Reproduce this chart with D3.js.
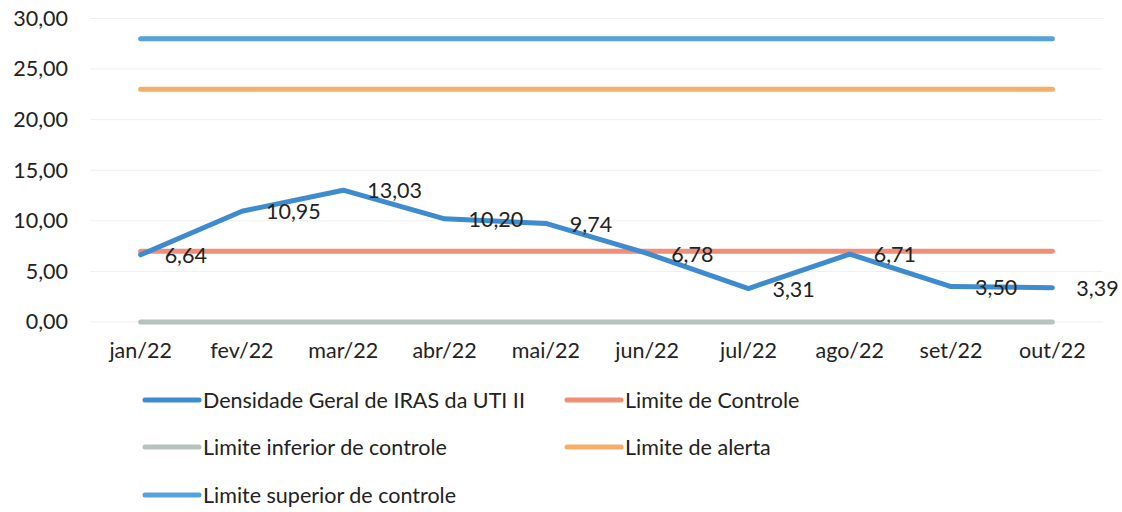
<!DOCTYPE html>
<html>
<head>
<meta charset="utf-8">
<script src="https://cdn.jsdelivr.net/npm/d3@7"></script>
<style>
  html, body { margin: 0; padding: 0; background: #fff; }
  svg { display: block; }
  text { font-family: Lato, "Noto Sans", sans-serif; fill: #222; }
</style>
</head>
<body>
<svg id="chart" width="1122" height="512"></svg>
<script>
// Months of 2022
const months = ["jan/22", "fev/22", "mar/22", "abr/22", "mai/22", "jun/22", "jul/22", "ago/22", "set/22", "out/22"];

// Overall ICU II infection density
const densidade = [6.64, 10.95, 13.03, 10.20, 9.74, 6.78, 3.31, 6.71, 3.50, 3.39];

// Reference limits (constant across the period)
const limiteControle = [7, 7, 7, 7, 7, 7, 7, 7, 7, 7];
const limiteInferior = [0, 0, 0, 0, 0, 0, 0, 0, 0, 0];
const limiteAlerta = [23, 23, 23, 23, 23, 23, 23, 23, 23, 23];
const limiteSuperior = [28, 28, 28, 28, 28, 28, 28, 28, 28, 28];

const yTicks = [0, 5, 10, 15, 20, 25, 30];

const series = [
  { name: "Densidade Geral de IRAS da UTI II", values: densidade, color: "#3f8bcf" },
  { name: "Limite de Controle", values: limiteControle, color: "#f08e78" },
  { name: "Limite inferior de controle", values: limiteInferior, color: "#b6c2bd" },
  { name: "Limite de alerta", values: limiteAlerta, color: "#f8ae68" },
  { name: "Limite superior de controle", values: limiteSuperior, color: "#55a3de" }
];

// Draw order: limits beneath the main series
const drawOrder = [2, 1, 3, 4, 0];

const FONT = 21.5;
const svg = d3.select("#chart");
const plot = { left: 90, right: 1103, top: 18.5, bottom: 322 };

const x = d3.scaleBand().domain(months).range([plot.left, plot.right]);
const y = d3.scaleLinear().domain([0, 30]).range([plot.bottom, plot.top]);
const cx = m => x(m) + x.bandwidth() / 2;

const fmt = v => d3.format(".2f")(v).replace(".", ",");

// Horizontal gridlines
svg.append("g").selectAll("line").data(yTicks).join("line")
  .attr("x1", plot.left).attr("x2", plot.right)
  .attr("y1", d => y(d)).attr("y2", d => y(d))
  .attr("stroke", "#efefef").attr("stroke-width", 1);

// Y axis labels
const yAxis = d3.axisLeft(y).tickValues(yTicks).tickFormat(fmt).tickSize(0).tickPadding(0);
const gy = svg.append("g").attr("transform", "translate(68,0)").call(yAxis);
gy.select(".domain").remove();
gy.selectAll("text").attr("font-size", FONT).attr("fill", "#222")
  .attr("font-family", "Lato, 'Noto Sans', sans-serif");

// X axis labels
const xAxis = d3.axisBottom(x).tickSize(0).tickPadding(0);
const gx = svg.append("g").attr("transform", "translate(0,343)").call(xAxis);
gx.select(".domain").remove();
gx.selectAll("text").attr("font-size", FONT).attr("fill", "#222")
  .attr("font-family", "Lato, 'Noto Sans', sans-serif");

// Series lines
const line = d3.line().x((d, i) => cx(months[i])).y(d => y(d));
drawOrder.forEach(k => {
  const s = series[k];
  svg.append("path")
    .datum(s.values)
    .attr("d", line)
    .attr("fill", "none")
    .attr("stroke", s.color)
    .attr("stroke-width", 5)
    .attr("stroke-linecap", "round")
    .attr("stroke-linejoin", "round");
});

// Data labels on the main series, to the right of each point
svg.append("g").selectAll("text").data(densidade).join("text")
  .attr("x", (d, i) => cx(months[i]) + 24)
  .attr("y", d => y(d))
  .attr("dy", "0.38em")
  .attr("font-size", FONT)
  .text(d => fmt(d));

// Legend
const legendPos = [
  { x: 145, y: 400 },
  { x: 567, y: 400 },
  { x: 145, y: 447 },
  { x: 567, y: 447 },
  { x: 145, y: 495 }
];
const lg = svg.append("g").selectAll("g").data(series).join("g")
  .attr("transform", (d, i) => `translate(${legendPos[i].x},${legendPos[i].y})`);
lg.append("line")
  .attr("x1", 0).attr("x2", 54).attr("y1", 0).attr("y2", 0)
  .attr("stroke", d => d.color).attr("stroke-width", 5)
  .attr("stroke-linecap", "round");
lg.append("text")
  .attr("x", 58).attr("y", 0).attr("dy", "0.36em")
  .attr("font-size", FONT)
  .text(d => d.name);
</script>
</body>
</html>
